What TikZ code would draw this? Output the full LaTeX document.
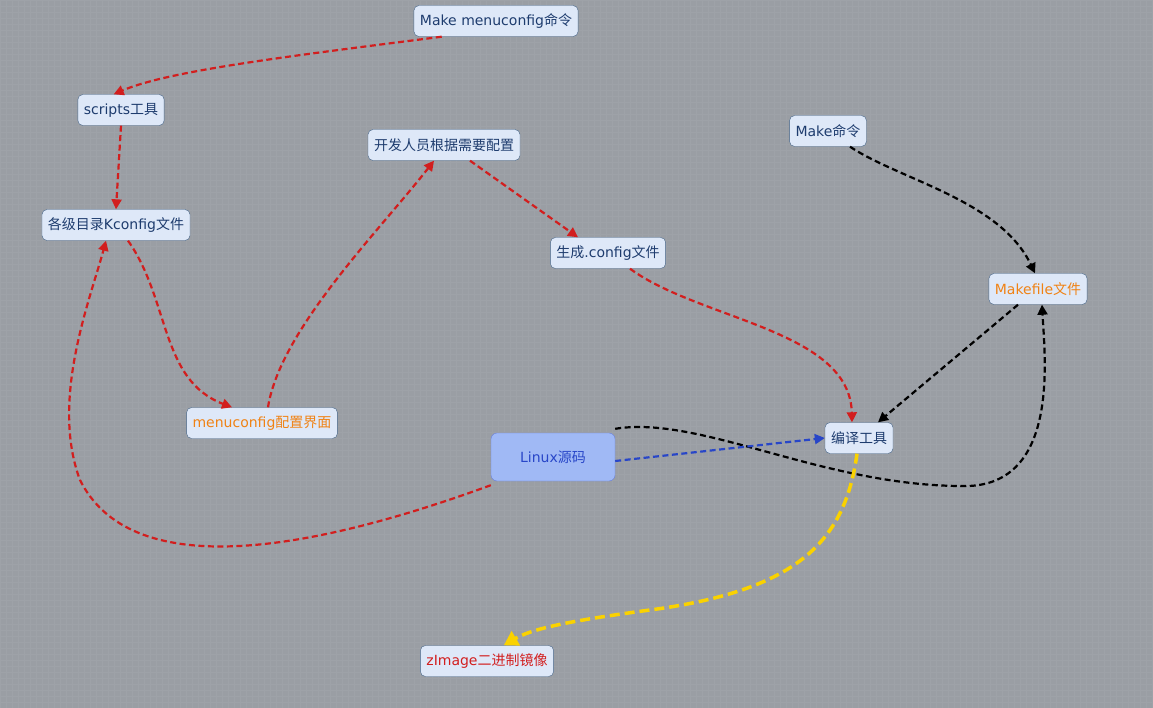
\documentclass[tikz,border=0pt]{standalone}
\usepackage{fontspec}
\setmainfont{DejaVu Sans}
\newfontfamily\cjk{Noto Sans CJK SC}
\usetikzlibrary{arrows.meta}
\definecolor{bg}{RGB}{154,158,164}
\definecolor{gridc}{RGB}{158,162,168}
\definecolor{nfill}{RGB}{222,232,248}
\definecolor{lfill}{RGB}{160,185,245}
\definecolor{nborder}{RGB}{70,100,135}
\definecolor{ntext}{RGB}{30,60,110}
\definecolor{orangec}{RGB}{240,130,20}
\definecolor{redc}{RGB}{210,30,30}
\definecolor{yel}{RGB}{250,210,0}
\definecolor{bluec}{RGB}{40,70,200}
\begin{document}
\begin{tikzpicture}[x=1pt,y=-1pt,
  box/.style={draw=nborder,fill=nfill,rounded corners=5pt,text=ntext,font=\fontsize{14}{17}\selectfont,inner xsep=6pt,inner ysep=2pt,minimum height=31pt},
  rl/.style={draw=redc,line width=2.2pt,dash pattern=on 6pt off 3.5pt,-{Triangle[length=10pt,width=10pt]}},
  bl/.style={draw=black,line width=2.2pt,dash pattern=on 6pt off 3.5pt,-{Triangle[length=10pt,width=10pt]}}]
\fill[bg] (0,0) rectangle (1153,708);
\useasboundingbox (0,0) rectangle (1153,708);
\foreach \i in {0,6,...,1153} \draw[gridc,line width=0.3pt] (\i,0)--(\i,708);
\foreach \i in {0,6,...,708} \draw[gridc,line width=0.3pt] (0,\i)--(1153,\i);
\node[box] (mm) at (496,21) {Make menuconfig{\cjk 命令}};
\node[box] (sc) at (121,110) {scripts{\cjk 工具}};
\node[box] (kc) at (116,225) {{\cjk 各级目录}Kconfig{\cjk 文件}};
\node[box] (dev) at (444,145) {\cjk 开发人员根据需要配置};
\node[box] (gen) at (608,253) {{\cjk 生成}.config{\cjk 文件}};
\node[box,text=orangec] (mc) at (262,423) {menuconfig{\cjk 配置界面}};
\node[box,fill=lfill,draw=bluec!70,text=bluec,minimum width=124pt,minimum height=48pt,rounded corners=6pt] (lx) at (553,457) {Linux{\cjk 源码}};
\node[box] (by) at (859,438) {\cjk 编译工具};
\node[box] (mk) at (828,131) {Make{\cjk 命令}};
\node[box,text=orangec] (mf) at (1038,289) {Makefile{\cjk 文件}};
\node[box,text=redc] (zi) at (487,661) {zImage{\cjk 二进制镜像}};
\draw[rl] ([xshift=28pt]mm.south west) .. controls (300,55) and (170,70) .. ([xshift=36pt]sc.north west);
\draw[rl] (sc.south) -- ([xshift=0pt]kc.north);
\draw[rl] ([xshift=12pt]kc.south) .. controls (170,300) and (160,380) .. ([xshift=-30pt]mc.north);
\draw[rl] ([xshift=6pt]mc.north) .. controls (280,330) and (380,230) .. ([xshift=-10pt]dev.south);
\draw[rl] ([xshift=26pt]dev.south) -- ([xshift=-30pt]gen.north);
\draw[rl] ([xshift=22pt]gen.south) .. controls (700,320) and (850,330) .. ([xshift=-7pt]by.north);
\draw[rl] ([yshift=-4pt]lx.south west) .. controls (300,555) and (130,580) .. (80,480) .. controls (50,400) and (90,300) .. ([xshift=-10pt]kc.south);
\draw[bl] ([xshift=22pt]mk.south) .. controls (900,180) and (1000,200) .. ([xshift=-3pt]mf.north);
\draw[bl] ([xshift=-20pt]mf.south) -- ([xshift=19pt]by.north);
\draw[bl] ([yshift=4pt]lx.north east) .. controls (700,415) and (820,485) .. (960,486) .. controls (1060,490) and (1045,360) .. ([xshift=4pt]mf.south);
\draw[draw=bluec,line width=2.2pt,dash pattern=on 6pt off 3.5pt,-{Triangle[length=10pt,width=10pt]}] ([yshift=-4pt]lx.east) -- (by.west);
\draw[draw=yel,line width=3.5pt,dash pattern=on 10pt off 5pt,-{Triangle[length=14pt,width=16pt]}] ([xshift=-2pt]by.south) .. controls (845,540) and (800,590) .. (650,610) .. controls (560,622) and (530,630) .. ([xshift=-50pt]zi.north east);
\end{tikzpicture}
\end{document}
